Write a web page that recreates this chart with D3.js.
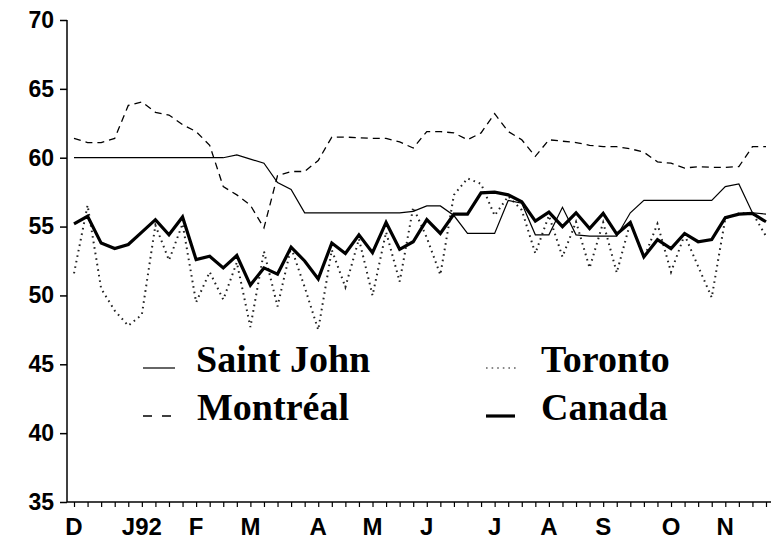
<!DOCTYPE html>
<html>
<head>
<meta charset="utf-8">
<script src="https://cdn.jsdelivr.net/npm/d3@7/dist/d3.min.js"></script>
<style>
  html, body { margin: 0; padding: 0; background: #fff; }
  svg { display: block; }
</style>
</head>
<body>
<svg id="chart" width="779" height="540"></svg>
<script>
// Weekly observations, first week of Dec 1991 to last week of Nov 1992 (52 weeks)
const weeks = d3.range(52);

const monthLabels = ["D", "J92", "F", "M", "A", "M", "J", "J", "A", "S", "O", "N"];
const monthWeekIndex = [0, 5, 9, 13, 18, 22, 26, 31, 35, 39, 44, 48];

const yTicks = [35, 40, 45, 50, 55, 60, 65, 70];

const saintJohn = [
  60.0, 60.0, 60.0, 60.0, 60.0, 60.0, 60.0, 60.0, 60.0, 60.0,
  60.0, 60.0, 60.2, 59.9, 59.6, 58.2, 57.7, 56.0, 56.0, 56.0,
  56.0, 56.0, 56.0, 56.0, 56.0, 56.1, 56.5, 56.5, 55.8, 54.5,
  54.5, 54.5, 56.9, 56.7, 54.4, 54.4, 56.4, 54.4, 54.3, 54.3,
  54.3, 56.0, 56.9, 56.9, 56.9, 56.9, 56.9, 56.9, 57.9, 58.1,
  56.0, 55.9
];

const montreal = [
  61.4, 61.1, 61.1, 61.4, 63.8, 64.05, 63.3, 63.1, 62.4, 61.9,
  60.9, 57.9, 57.3, 56.55, 54.9, 58.7, 59.0, 59.0, 59.8, 61.5,
  61.5, 61.45, 61.4, 61.4, 61.15, 60.7, 61.9, 61.9, 61.8, 61.3,
  61.8, 63.2, 61.9, 61.3, 60.1, 61.3, 61.2, 61.1, 60.9, 60.8,
  60.8, 60.65, 60.4, 59.7, 59.6, 59.25, 59.35, 59.3, 59.3, 59.35,
  60.8, 60.8
];

const toronto = [
  51.6, 56.55, 50.5, 48.9, 47.8, 48.6, 55.1, 52.55, 55.2, 49.5,
  51.7, 49.7, 52.4, 47.7, 53.2, 49.2, 53.5, 50.6, 47.5, 53.3,
  50.6, 54.1, 50.0, 54.6, 51.0, 56.4, 54.2, 51.5, 57.3, 58.5,
  58.1, 55.8, 57.2, 56.2, 53.05, 55.8, 52.8, 55.35, 52.0, 55.3,
  51.65, 55.3, 52.7, 55.2, 51.7, 54.4, 52.1, 49.85, 55.6, 55.95,
  56.0, 54.3
];

const canada = [
  55.2, 55.75, 53.8, 53.4, 53.7, 54.6, 55.5, 54.4, 55.7, 52.6,
  52.85, 52.0, 52.9, 50.75, 52.0, 51.55, 53.5, 52.5, 51.2, 53.8,
  53.05, 54.4, 53.1, 55.3, 53.35, 53.9, 55.5, 54.5, 55.9, 55.9,
  57.45, 57.5, 57.3, 56.8, 55.4, 56.05, 55.0, 56.0, 54.85, 55.95,
  54.45, 55.3, 52.8, 54.05, 53.4, 54.5, 53.9, 54.05, 55.65, 55.9,
  55.95, 55.35
];

const seriesNames = ["Saint John", "Montréal", "Toronto", "Canada"];

const svg = d3.select("#chart");
svg.append("rect").attr("width", 779).attr("height", 540).attr("fill", "#fff");

const x = d3.scaleLinear().domain([0, 51]).range([74, 766]);
const y = d3.scaleLinear().domain([35, 70]).range([502, 20]);

const sansBold = "'Liberation Sans', Arial, Helvetica, sans-serif";
const serifBold = "'Liberation Serif', 'Times New Roman', Times, serif";

// Y axis
const yAxis = svg.append("g").attr("transform", "translate(67,0)")
  .call(d3.axisLeft(y).tickValues(yTicks).tickSize(7).tickPadding(6).tickFormat(d3.format("d")));
yAxis.select(".domain").attr("stroke", "#000").attr("stroke-width", 1.5)
  .attr("d", "M0," + y(70) + "V" + y(35));
yAxis.selectAll(".tick line").attr("stroke", "#000").attr("stroke-width", 1.5);
yAxis.selectAll(".tick text")
  .attr("font-family", sansBold).attr("font-weight", "bold").attr("font-size", 23)
  .attr("fill", "#000");

// X axis (weekly ticks)
const xAxis = svg.append("g").attr("transform", "translate(0," + y(35) + ")")
  .call(d3.axisBottom(x).tickValues(weeks).tickSize(5).tickFormat(""));
xAxis.select(".domain").attr("stroke", "#000").attr("stroke-width", 1.5)
  .attr("d", "M67,0H771");
xAxis.selectAll(".tick line").attr("stroke", "#000").attr("stroke-width", 1.2);

// Month labels
svg.append("g").selectAll("text").data(monthLabels).join("text")
  .attr("x", (d, i) => x(monthWeekIndex[i]))
  .attr("y", 535)
  .attr("text-anchor", "middle")
  .attr("font-family", sansBold).attr("font-weight", "bold").attr("font-size", 24)
  .attr("fill", "#000")
  .text(d => d);

const line = d3.line().x((d, i) => x(i)).y(d => y(d));

const styles = {
  "Saint John": { w: 1.2, dash: null, color: "#000" },
  "Montréal": { w: 1.3, dash: "7,5", color: "#000" },
  "Toronto": { w: 2, dash: "1.6,4", color: "#222" },
  "Canada": { w: 3.2, dash: null, color: "#000" }
};
const dataBy = { "Saint John": saintJohn, "Montréal": montreal, "Toronto": toronto, "Canada": canada };

["Montréal", "Toronto", "Saint John", "Canada"].forEach(name => {
  const s = styles[name];
  svg.append("path")
    .datum(dataBy[name])
    .attr("fill", "none")
    .attr("stroke", s.color)
    .attr("stroke-width", s.w)
    .attr("stroke-dasharray", s.dash)
    .attr("stroke-linejoin", "miter")
    .attr("d", line);
});

// Legend
const legendPos = {
  "Saint John": { lx: 143, lw: 32, ly: 368, tx: 196, ty: 372 },
  "Montréal": { lx: 143, lw: 30, ly: 416, tx: 197, ty: 420 },
  "Toronto": { lx: 486, lw: 32, ly: 368, tx: 541, ty: 372 },
  "Canada": { lx: 486, lw: 29, ly: 416, tx: 541, ty: 420 }
};
const legendDash = { "Saint John": null, "Montréal": "9,10", "Toronto": "1.6,4", "Canada": null };
const legendColor = { "Saint John": "#000", "Montréal": "#000", "Toronto": "#888", "Canada": "#000" };
const lg = svg.append("g");
seriesNames.forEach(name => {
  const p = legendPos[name], s = styles[name];
  lg.append("line")
    .attr("x1", p.lx).attr("x2", p.lx + p.lw)
    .attr("y1", p.ly).attr("y2", p.ly)
    .attr("stroke", legendColor[name]).attr("stroke-width", s.w)
    .attr("stroke-dasharray", legendDash[name]);
  lg.append("text")
    .attr("x", p.tx).attr("y", p.ty)
    .attr("font-family", serifBold).attr("font-weight", "bold").attr("font-size", 38)
    .attr("fill", "#000")
    .text(name);
});
</script>
</body>
</html>
